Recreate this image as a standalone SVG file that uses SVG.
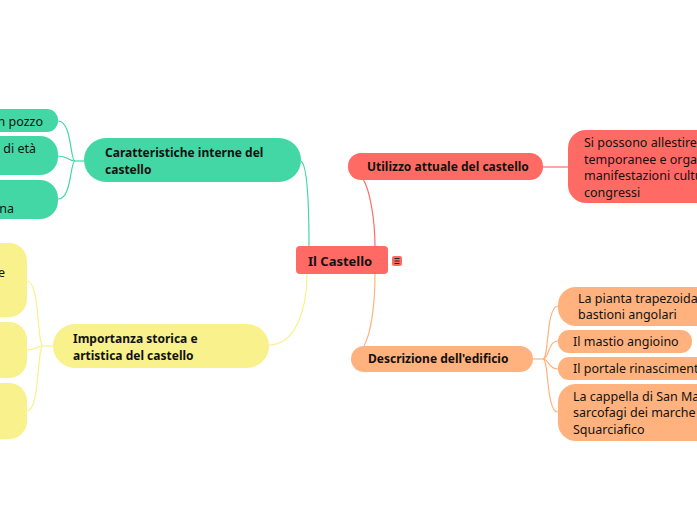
<svg xmlns="http://www.w3.org/2000/svg" width="697" height="520" viewBox="0 0 697 520">
<style>
text{font-family:"Noto Sans","Open Sans",sans-serif;fill:#111;}
.t{font-size:12px;font-weight:bold;}
.c{font-size:13px;font-weight:bold;}
.l{font-size:12.5px;}
.green{fill:#44d7a6;}
.yellow{fill:#f8f18c;}
.red{fill:#ff6b64;}
.orange{fill:#ffb27e;}
.cg{stroke:#44d7a6;}
.cy{stroke:#f8f18c;}
.cr{stroke:#ff6b64;}
.co{stroke:#ffb27e;}
#connectors path{fill:none;stroke-width:1.2;}
</style>
<rect width="697" height="520" fill="#ffffff"/>
<g id="connectors">
  <path class="cg" d="M301,161 C307,165 309,200 309,247"/>
  <path class="cr" d="M363,179 C370,190 375,220 375,247"/>
  <path class="cy" d="M269,345 C295,345 307,310 307,274"/>
  <path class="co" d="M375,274 C375,310 370,335 364,346"/>
  <path class="cr" d="M543,167 L568,167"/>
  <path class="cg" d="M85,161 L75,161"/>
  <path class="cg" d="M75,161 C70,161 72,121 58,121"/>
  <path class="cg" d="M75,161 C68,161 68,156 58,156"/>
  <path class="cg" d="M75,161 C70,161 72,199 58,199"/>
  <path class="cy" d="M53,346 L43,346"/>
  <path class="cy" d="M43,346 C37,346 40,281 27,281"/>
  <path class="cy" d="M43,346 C36,346 36,350 27,350"/>
  <path class="cy" d="M43,346 C37,346 40,411 27,411"/>
  <path class="co" d="M533,359 L543,359"/>
  <path class="co" d="M543,359 C549,359 546,306 558,306"/>
  <path class="co" d="M543,359 C549,359 548,341 558,341"/>
  <path class="co" d="M543,359 C549,359 548,369 558,369"/>
  <path class="co" d="M543,359 C549,359 546,412 558,412"/>
</g>
<g id="root">
  <rect class="red" x="296" y="246" width="92" height="28" rx="4"/>
  <text class="c" x="308" y="266">Il Castello</text>
  <rect class="red" x="392" y="256" width="10" height="10" rx="2"/>
  <path d="M394.5,258.5h5M394.5,261h5M394.5,263.5h5" stroke="#222" stroke-width="1"/>
</g>
<g id="caratteristiche">
  <rect class="green" x="84" y="138" width="217" height="44" rx="22"/>
  <text class="t" x="105" y="157">Caratteristiche interne del</text>
  <text class="t" x="105" y="174">castello</text>
</g>
<g id="green-leaf-1">
  <rect class="green" x="-40" y="109" width="98" height="23" rx="11"/>
  <text class="l" x="43" y="126" text-anchor="end">n pozzo</text>
</g>
<g id="green-leaf-2">
  <rect class="green" x="-40" y="136" width="98" height="39" rx="18"/>
  <text class="l" x="36" y="153" text-anchor="end">e di età</text>
</g>
<g id="green-leaf-3">
  <rect class="green" x="-40" y="180" width="98" height="39" rx="18"/>
  <text class="l" x="14" y="213" text-anchor="end">na</text>
</g>
<g id="importanza">
  <rect class="yellow" x="53" y="324" width="216" height="44" rx="22"/>
  <text class="t" x="73" y="343">Importanza storica e</text>
  <text class="t" x="73" y="360">artistica del castello</text>
</g>
<g id="yellow-leaf-1">
  <rect class="yellow" x="-40" y="243" width="67" height="74" rx="18"/>
  <text class="l" x="5" y="277" text-anchor="end">e</text>
</g>
<g id="yellow-leaf-2">
  <rect class="yellow" x="-40" y="322" width="67" height="56" rx="18"/>
</g>
<g id="yellow-leaf-3">
  <rect class="yellow" x="-40" y="383" width="67" height="56" rx="18"/>
</g>
<g id="utilizzo">
  <rect class="red" x="348" y="153" width="195" height="27" rx="13"/>
  <text class="t" x="367" y="171">Utilizzo attuale del castello</text>
</g>
<g id="utilizzo-leaf">
  <rect class="red" x="568" y="130" width="160" height="73" rx="18"/>
  <text class="l" x="584" y="147">Si possono allestire</text>
  <text class="l" x="584" y="164">temporanee e orga</text>
  <text class="l" x="584" y="180">manifestazioni cultu</text>
  <text class="l" x="584" y="197">congressi</text>
</g>
<g id="descrizione">
  <rect class="orange" x="351" y="346" width="182" height="26" rx="13"/>
  <text class="t" x="368" y="363">Descrizione dell'edificio</text>
</g>
<g id="orange-leaf-1">
  <rect class="orange" x="558" y="287" width="170" height="39" rx="18"/>
  <text class="l" x="578" y="303">La pianta trapezoida</text>
  <text class="l" x="578" y="319">bastioni angolari</text>
</g>
<g id="orange-leaf-2">
  <rect class="orange" x="558" y="330" width="134" height="23" rx="11"/>
  <text class="l" x="573" y="346">Il mastio angioino</text>
</g>
<g id="orange-leaf-3">
  <rect class="orange" x="558" y="357" width="170" height="23" rx="11"/>
  <text class="l" x="573" y="373">Il portale rinasciment</text>
</g>
<g id="orange-leaf-4">
  <rect class="orange" x="558" y="384" width="170" height="57" rx="18"/>
  <text class="l" x="573" y="401">La cappella di San Ma</text>
  <text class="l" x="573" y="417">sarcofagi dei marche</text>
  <text class="l" x="573" y="434">Squarciafico</text>
</g>
</svg>
